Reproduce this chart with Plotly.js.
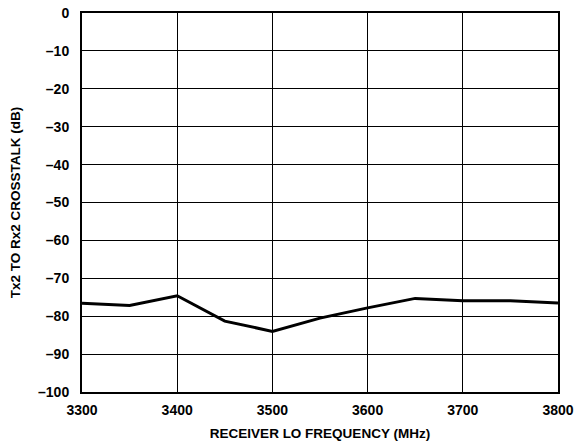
<!DOCTYPE html>
<html>
<head>
<meta charset="utf-8">
<script src="https://cdn.plot.ly/plotly-3.0.1.min.js"></script>
<style>html,body{margin:0;padding:0;background:#fff;}#chart{width:582px;height:444px;}</style>
</head>
<body>
<div id="chart"></div>
<script>
var freqMHz = [3300, 3350, 3400, 3450, 3500, 3550, 3600, 3650, 3700, 3750, 3800];
var crosstalkDb = [-76.6, -77.2, -74.6, -81.3, -84.0, -80.5, -77.8, -75.3, -75.9, -75.9, -76.5];
var xTickVals = [3300, 3400, 3500, 3600, 3700, 3800];
var xTickText = ["3300", "3400", "3500", "3600", "3700", "3800"];
var yTickVals = [0, -10, -20, -30, -40, -50, -60, -70, -80, -90, -100];
var yTickText = ["0", "–10", "–20", "–30", "–40", "–50", "–60", "–70", "–80", "–90", "–100"];

var fam = "Liberation Sans, Arial, sans-serif";
function b(s) { return "<b>" + s + "</b>"; }

Plotly.newPlot("chart", [{
  x: freqMHz, y: crosstalkDb, mode: "lines", type: "scatter",
  line: {color: "#000", width: 3}, hoverinfo: "skip"
}], {
  width: 582, height: 444,
  margin: {l: 82, r: 24, t: 13, b: 52},
  paper_bgcolor: "#fff", plot_bgcolor: "#fff",
  showlegend: false,
  font: {family: fam, size: 14, color: "#000"},
  xaxis: {
    range: [3300, 3800], tickvals: xTickVals, ticktext: xTickText.map(b),
    showgrid: true, gridcolor: "#000", gridwidth: 1,
    showline: true, linecolor: "#000", linewidth: 2, mirror: true,
    zeroline: false, ticks: "outside", ticklen: 4, tickcolor: "rgba(0,0,0,0)",
    tickfont: {family: fam, size: 14, color: "#000"},
    title: {text: b("RECEIVER LO FREQUENCY (MHz)"), standoff: 12,
      font: {family: fam, size: 13.5, color: "#000"}}
  },
  yaxis: {
    range: [-100, 0], tickvals: yTickVals, ticktext: yTickText.map(b),
    showgrid: true, gridcolor: "#000", gridwidth: 1,
    showline: true, linecolor: "#000", linewidth: 2, mirror: true,
    zeroline: false, ticks: "outside", ticklen: 8, tickcolor: "rgba(0,0,0,0)",
    tickfont: {family: fam, size: 14, color: "#000"},
    title: {text: b("Tx2 TO Rx2 CROSSTALK (dB)"), standoff: 14,
      font: {family: fam, size: 13.5, color: "#000"}}
  }
}, {staticPlot: true});
</script>
</body>
</html>
